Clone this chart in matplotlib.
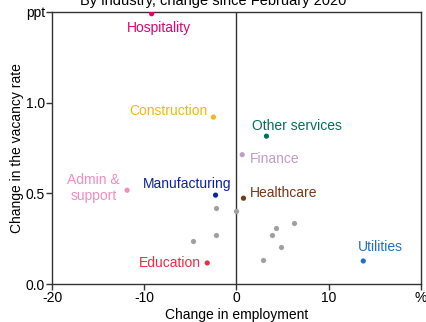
import matplotlib
matplotlib.use('Agg')
import matplotlib.pyplot as plt

plt.rcParams['font.family'] = ['Liberation Sans', 'DejaVu Sans']

# Данные по отраслям (изменение занятости, %; изменение уровня вакансий, п.п.)
named = ['Hospitality', 'Construction', 'Other services', 'Finance', 'Admin &\nsupport',
         'Manufacturing', 'Healthcare', 'Utilities', 'Education']
named_emp = [-9.2, -2.5, 3.25, 0.62, -11.86, -2.27, 0.76, 13.75, -3.17]
named_vac = [1.49, 0.92, 0.815, 0.713, 0.517, 0.49, 0.473, 0.127, 0.116]
named_colors = ['#E5006E', '#FBB415', '#00705A', '#C39BC8', '#F68BBF',
                '#0A23A0', '#7A3512', '#1A73C8', '#EF2B40']

other_emp = [-2.27, 0.0, 6.2, 4.33, 3.9, -2.27, -4.72, 4.87, 2.85]
other_vac = [0.421, 0.40, 0.335, 0.309, 0.272, 0.27, 0.237, 0.202, 0.13]

# Позиции подписей (в координатах данных)
label_pos = [(-8.36, 1.41, 'center'), (-3.14, 0.952, 'right'), (1.67, 0.873, 'left'),
             (1.48, 0.689, 'left'), (-15.5, 0.531, 'center'), (-0.54, 0.552, 'right'),
             (1.41, 0.50, 'left'), (15.6, 0.202, 'center'), (-3.85, 0.116, 'right')]

fig = plt.figure(figsize=(4.27, 3.22), dpi=100)
ax = fig.add_axes([0.1218, 0.118, 0.864, 0.845])

ax.axvline(0, color='#333333', lw=1.0, zorder=1)
ax.scatter(other_emp, other_vac, s=14, color='#A0A0A0', zorder=3, linewidths=0)
ax.scatter(named_emp, named_vac, s=14, c=named_colors, zorder=3, linewidths=0)

for name, col, (lx, ly, ha) in zip(named, named_colors, label_pos):
    ax.text(lx, ly, name, color=col, ha=ha, va='center', fontsize=10,
            multialignment='center', linespacing=1.15)

ax.set_xlim(-20, 20)
ax.set_ylim(0, 1.5)
ax.set_xticks([-20, -10, 0, 10, 20])
ax.set_xticklabels(['-20', '-10', '0', '10', '%'])
ax.set_yticks([0, 0.5, 1.0, 1.5])
ax.set_yticklabels(['0.0', '0.5', '1.0', 'ppt'])
ax.tick_params(direction='out', length=4, width=1, color='#333333', labelsize=10, pad=1)
for sp in ax.spines.values():
    sp.set_color('#333333')
    sp.set_linewidth(1.0)

ax.set_xlabel('Change in employment', fontsize=10, labelpad=2)
ax.set_ylabel('Change in the vacancy rate', fontsize=10, labelpad=1)

fig.text(0.5, 0.984, 'By industry, change since February 2020', ha='center',
         va='baseline', fontsize=10.5)

fig.savefig('out.png', dpi=100)
